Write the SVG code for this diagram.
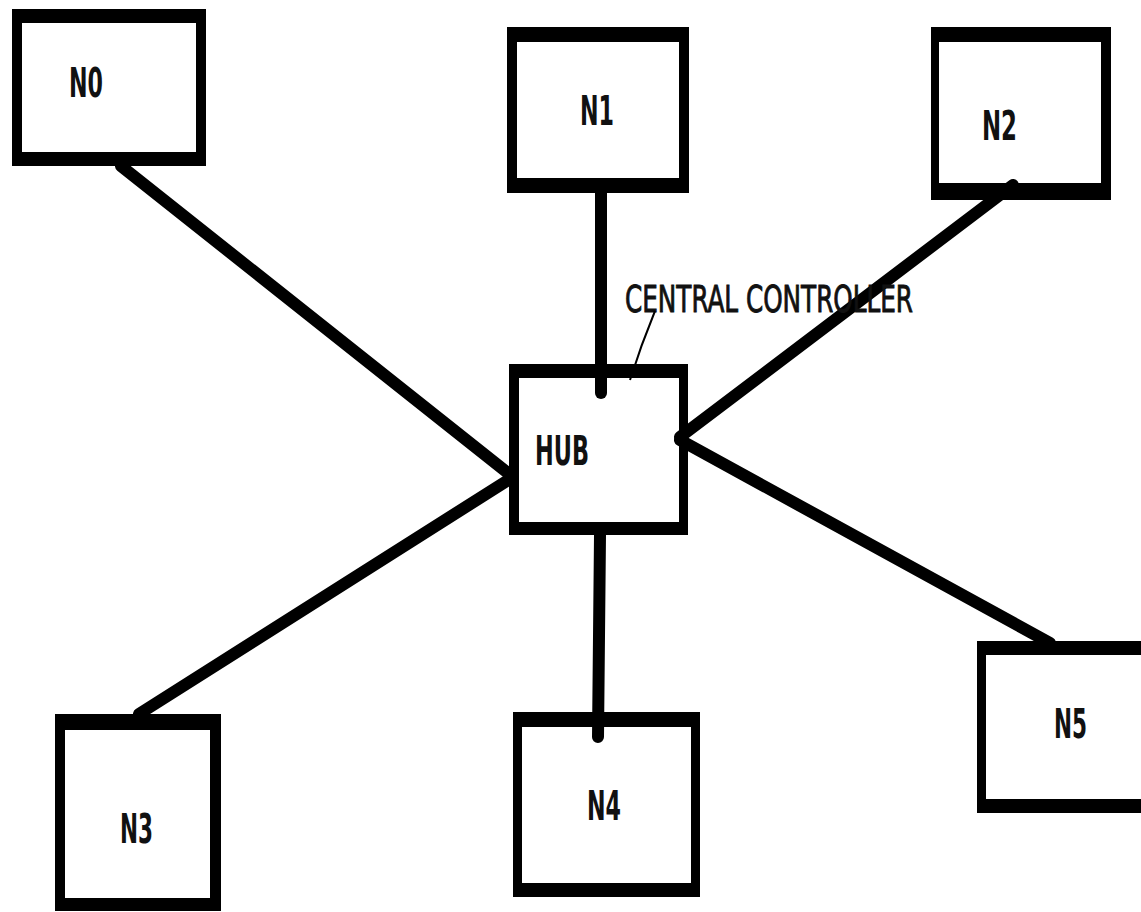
<svg xmlns="http://www.w3.org/2000/svg" width="1141" height="912" viewBox="0 0 1141 912">
<style>
.outer{fill:#000}
.inner{fill:#fff}
.lbl{font-family:"Liberation Sans Narrow","DejaVu Sans Condensed","Liberation Sans",sans-serif;font-weight:bold;font-size:40px;fill:#111}
.note{font-family:"Liberation Sans Narrow","DejaVu Sans Condensed","Liberation Sans",sans-serif;font-size:38px;fill:#111;stroke:#111;stroke-width:0.9}
.link{stroke:#000;stroke-width:12;stroke-linecap:round;fill:none}
.leader{stroke:#000;stroke-width:2;fill:none}
</style>
<rect width="1141" height="912" fill="#fff"/>
<g id="N0"><rect class="outer" x="12" y="9" width="194" height="157"/><rect class="inner" x="22" y="23" width="174" height="129"/><text class="lbl" x="69" y="97" textLength="34" lengthAdjust="spacingAndGlyphs">N0</text></g>
<g id="N1"><rect class="outer" x="507" y="27" width="182" height="166"/><rect class="inner" x="517" y="42" width="162" height="136"/><text class="lbl" x="580" y="125" textLength="34" lengthAdjust="spacingAndGlyphs">N1</text></g>
<g id="N2"><rect class="outer" x="931" y="27" width="180" height="173"/><rect class="inner" x="939" y="42" width="162" height="141"/><text class="lbl" x="982" y="140" textLength="35" lengthAdjust="spacingAndGlyphs">N2</text></g>
<g id="HUB"><rect class="outer" x="509" y="364" width="179" height="171"/><rect class="inner" x="519" y="378" width="160" height="144"/><text class="lbl" x="535" y="465" textLength="54" lengthAdjust="spacingAndGlyphs">HUB</text></g>
<g id="N3"><rect class="outer" x="55" y="714" width="166" height="197"/><rect class="inner" x="65" y="730" width="145" height="168"/><text class="lbl" x="120" y="843" textLength="33" lengthAdjust="spacingAndGlyphs">N3</text></g>
<g id="N4"><rect class="outer" x="513" y="712" width="187" height="185"/><rect class="inner" x="522" y="727" width="169" height="156"/><text class="lbl" x="587" y="820" textLength="34" lengthAdjust="spacingAndGlyphs">N4</text></g>
<g id="N5"><rect class="outer" x="977" y="641" width="183" height="172"/><rect class="inner" x="986" y="655" width="174" height="144"/><text class="lbl" x="1054" y="738" textLength="33" lengthAdjust="spacingAndGlyphs">N5</text></g>
<g id="connectors">
<line class="link" x1="121" y1="166" x2="513" y2="477"/>
<line class="link" x1="139" y1="714" x2="513" y2="477"/>
<line class="link" x1="1013" y1="185" x2="680" y2="437"/>
<line class="link" x1="680" y1="440" x2="1050" y2="643"/>
<line class="link" x1="601" y1="193" x2="601" y2="393"/>
<line class="link" x1="600" y1="535" x2="598" y2="737"/>
</g>
<g id="central-controller-label">
<text class="note" x="625" y="312" textLength="288" lengthAdjust="spacingAndGlyphs">CENTRAL CONTROLLER</text>
<path class="leader" d="M655 311 Q 641 345 630 380"/>
</g>
</svg>
